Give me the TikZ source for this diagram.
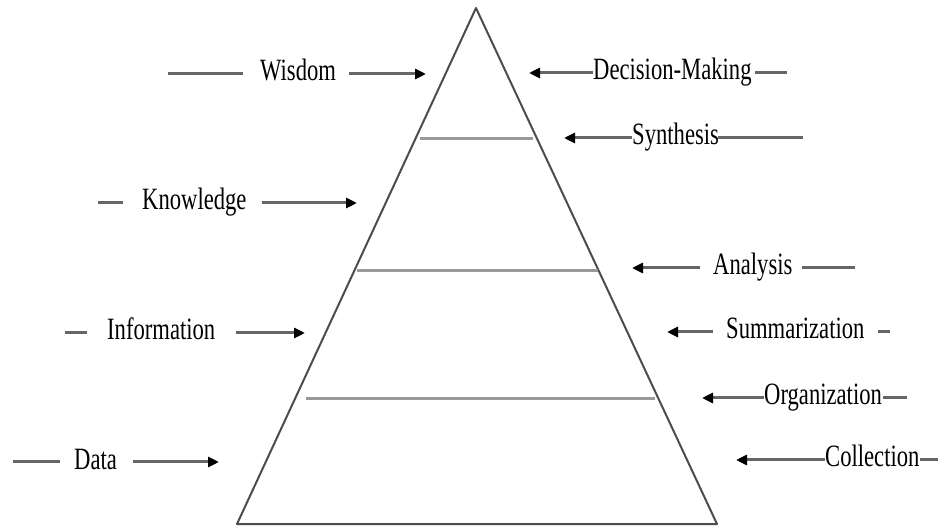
\documentclass[tikz,border=0pt]{standalone}
\usepackage{fontspec}
\setmainfont{Liberation Serif}
\usepackage{graphicx}
\usetikzlibrary{arrows.meta}
\newcommand{\squeezetxt}[1]{\scalebox{0.73}[1]{#1}}
\tikzset{
  lab/.style={anchor=base west, inner sep=0pt, font=\fontsize{31}{31}\selectfont, text=black},
  tail/.style={draw=black!60, line width=3pt},
  arr/.style={draw=black!60, line width=3pt, -{Triangle[length=11pt,width=10pt,fill=black,color=black]}},
  edge/.style={draw=black!70, line width=2pt, line join=round},
  level/.style={draw=black!40, line width=3pt}
}
\begin{document}
\begin{tikzpicture}[x=1pt,y=-1pt]
\useasboundingbox (0,0) rectangle (938,529);
% pyramid
\coordinate (apex) at (476,8);
\coordinate (bl) at (237,524);
\coordinate (br) at (717,524);
\draw[edge] (apex) -- (br) -- (bl) -- cycle;
\coordinate (l1a) at (420,139); \coordinate (l1b) at (533,139);
\coordinate (l2a) at (357,271); \coordinate (l2b) at (598,271);
\coordinate (l3a) at (306,399); \coordinate (l3b) at (655,399);
\draw[level] (l1a) -- (l1b);
\draw[level] (l2a) -- (l2b);
\draw[level] (l3a) -- (l3b);
% left labels
\node[lab] (wis) at (260,81) {\squeezetxt{Wisdom}};
\coordinate (wis0) at (168,74); \coordinate (wis1) at (243,74);
\coordinate (wis2) at (349,74); \coordinate (wis3) at (426,74);
\draw[tail] (wis0) -- (wis1);
\draw[arr] (wis2) -- (wis3);

\node[lab] (kno) at (142,210) {\squeezetxt{Knowledge}};
\coordinate (kno0) at (98,203); \coordinate (kno1) at (123,203);
\coordinate (kno2) at (262,203); \coordinate (kno3) at (357,203);
\draw[tail] (kno0) -- (kno1);
\draw[arr] (kno2) -- (kno3);

\node[lab] (inf) at (107,340) {\squeezetxt{Information}};
\coordinate (inf0) at (65,333); \coordinate (inf1) at (87,333);
\coordinate (inf2) at (236,333); \coordinate (inf3) at (305,333);
\draw[tail] (inf0) -- (inf1);
\draw[arr] (inf2) -- (inf3);

\node[lab] (dat) at (74,469) {\squeezetxt{Data}};
\coordinate (dat0) at (13,462); \coordinate (dat1) at (60,462);
\coordinate (dat2) at (133,462); \coordinate (dat3) at (219,462);
\draw[tail] (dat0) -- (dat1);
\draw[arr] (dat2) -- (dat3);

% right labels
\node[lab] (dec) at (593,80) {\squeezetxt{Decision-Making}};
\coordinate (dec0) at (593,73); \coordinate (dec1) at (529,73);
\coordinate (dec2) at (755,73); \coordinate (dec3) at (787,73);
\draw[arr] (dec0) -- (dec1);
\draw[tail] (dec2) -- (dec3);

\node[lab] (syn) at (632,145) {\squeezetxt{Synthesis}};
\coordinate (syn0) at (632,138); \coordinate (syn1) at (564,138);
\coordinate (syn2) at (718,138); \coordinate (syn3) at (803,138);
\draw[arr] (syn0) -- (syn1);
\draw[tail] (syn2) -- (syn3);

\node[lab] (ana) at (713,275) {\squeezetxt{Analysis}};
\coordinate (ana0) at (700,268); \coordinate (ana1) at (632,268);
\coordinate (ana2) at (802,268); \coordinate (ana3) at (855,268);
\draw[arr] (ana0) -- (ana1);
\draw[tail] (ana2) -- (ana3);

\node[lab] (sum) at (726,339) {\squeezetxt{Summarization}};
\coordinate (sum0) at (713,332); \coordinate (sum1) at (667,332);
\coordinate (sum2) at (878,332); \coordinate (sum3) at (890,332);
\draw[arr] (sum0) -- (sum1);
\draw[tail] (sum2) -- (sum3);

\node[lab] (org) at (764,405) {\squeezetxt{Organization}};
\coordinate (org0) at (764,398); \coordinate (org1) at (702,398);
\coordinate (org2) at (883,398); \coordinate (org3) at (907,398);
\draw[arr] (org0) -- (org1);
\draw[tail] (org2) -- (org3);

\node[lab] (col) at (825,467) {\squeezetxt{Collection}};
\coordinate (col0) at (825,460); \coordinate (col1) at (736,460);
\coordinate (col2) at (920,460); \coordinate (col3) at (938,460);
\draw[arr] (col0) -- (col1);
\draw[tail] (col2) -- (col3);
\end{tikzpicture}
\end{document}
